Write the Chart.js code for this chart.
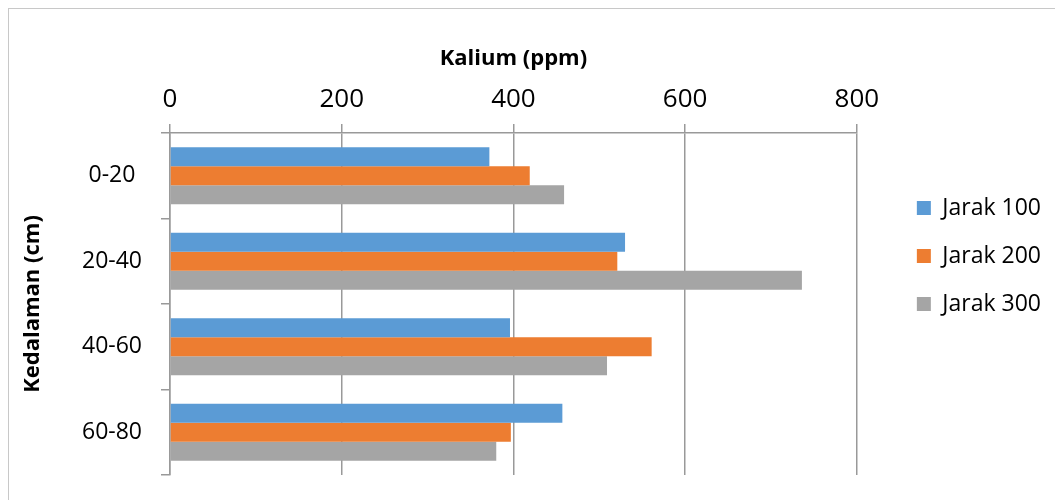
<!DOCTYPE html>
<html>
<head>
<meta charset="utf-8">
<script src="https://cdn.jsdelivr.net/npm/chart.js@4"></script>
<style>
    body { margin: 0; background: #ffffff; overflow: hidden; }
    .frame { position: absolute; left: 8px; top: 8px; width: 1200px; height: 600px; border: 1px solid #c8c8c8; }
    canvas { position: absolute; left: 0; top: 0; }
</style>
</head>
<body>
<div class="frame"></div>
<canvas id="kaliumChart" width="1055" height="500"></canvas>
<script>
// Data
const categories = ['0-20', '20-40', '40-60', '60-80'];
const seriesNames = ['Jarak 100', 'Jarak 200', 'Jarak 300'];
const jarak100 = [372, 530, 396, 457];
const jarak200 = [419, 521, 561, 397];
const jarak300 = [459, 736, 509, 380];
const xTicks = [0, 200, 400, 600, 800];

const COLORS = ['#5B9BD5', '#ED7D31', '#A5A5A5'];
const GRID = '#999999';
const FONT = 'Open Sans';

const ctx = document.getElementById('kaliumChart');

new Chart(ctx, {
    type: 'bar',
    data: {
        labels: categories,
        datasets: [jarak100, jarak200, jarak300].map((values, i) => ({
            label: seriesNames[i],
            data: values,
            backgroundColor: COLORS[i],
            borderWidth: 0,
            categoryPercentage: 0.665,
            barPercentage: 1
        }))
    },
    options: {
        indexAxis: 'y',
        responsive: false,
        animation: false,
        layout: {
            padding: { top: 37, right: 4, bottom: 25, left: 0 }
        },
        scales: {
            x: {
                position: 'top',
                min: 0,
                max: 800,
                afterBuildTicks: (scale) => {
                    scale.ticks = xTicks.map(v => ({ value: v }));
                },
                afterFit: (scale) => { scale.height = 96; },
                ticks: {
                    padding: 9,
                    color: '#000000',
                    font: { family: FONT, size: 26 }
                },
                grid: {
                    color: GRID,
                    lineWidth: 1.5,
                    tickLength: 9
                },
                border: { color: GRID, width: 1.5 },
                title: {
                    display: true,
                    text: 'Kalium (ppm)',
                    color: '#000000',
                    padding: { top: 9, bottom: 0 },
                    font: { family: FONT, size: 22, weight: 'bold' }
                }
            },
            y: {
                afterFit: (scale) => {
                    scale.width = 170;
                    scale.paddingTop = 0;
                    scale.paddingBottom = 0;
                },
                ticks: {
                    crossAlign: 'center',
                    padding: 19,
                    color: '#000000',
                    font: { family: FONT, size: 23 }
                },
                grid: {
                    drawOnChartArea: false,
                    color: GRID,
                    lineWidth: 1.5,
                    tickLength: 9
                },
                border: { color: GRID, width: 1.5 },
                title: {
                    display: true,
                    text: 'Kedalaman (cm)',
                    color: '#000000',
                    padding: { top: 20, bottom: 0 },
                    font: { family: FONT, size: 22, weight: 'bold' }
                }
            },
            // empty spacer between plot and legend
            gap: {
                type: 'category',
                position: 'right',
                afterFit: (scale) => { scale.width = 35; },
                ticks: { display: false },
                grid: { display: false },
                border: { display: false }
            }
        },
        plugins: {
            legend: {
                position: 'right',
                labels: {
                    boxWidth: 14,
                    boxHeight: 14,
                    padding: 25,
                    color: '#000000',
                    font: { family: FONT, size: 23 }
                }
            },
            tooltip: { enabled: false }
        }
    }
});
</script>
</body>
</html>
